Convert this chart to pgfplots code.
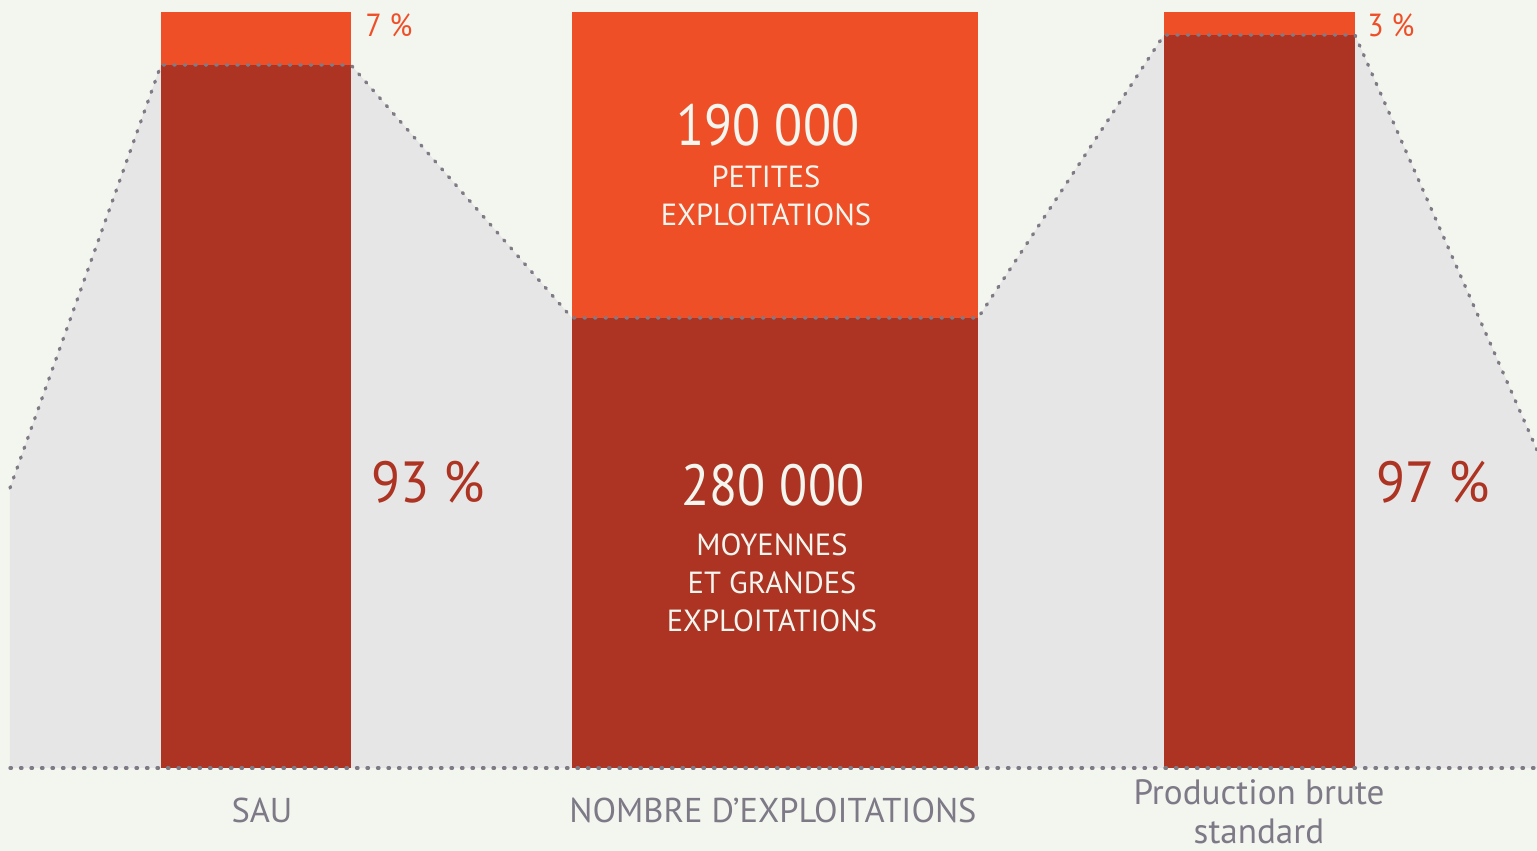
\documentclass[border=0pt]{standalone}
\usepackage{pgfplots}
\pgfplotsset{compat=1.18}
\usepackage{fontspec}
\setmainfont{PT Sans}
\newfontfamily\numfont[FakeStretch=0.89]{PT Sans}
\newfontfamily\pctfont[FakeStretch=0.92]{PT Sans}
\definecolor{bg}{HTML}{F3F5EF}
\definecolor{gfill}{HTML}{E5E6E5}
\definecolor{dred}{HTML}{AD3323}
\definecolor{orng}{HTML}{EF4F27}
\definecolor{dotc}{HTML}{7F7A85}
\definecolor{lab}{HTML}{7E7986}
\definecolor{wtxt}{HTML}{F3F5EF}
\begin{document}
\begin{tikzpicture}
\begin{axis}[
  width=15.37cm, height=8.51cm, scale only axis,
  xmin=0, xmax=1537, ymin=0, ymax=851,
  axis lines=none, ticks=none,
  clip=false,
]
% background
\addplot[fill=bg, draw=none] coordinates {(0,0)(1537,0)(1537,851)(0,851)} -- cycle;
% gray area
\addplot[fill=gfill, draw=none] coordinates {(10,83)(10,363)(161,786)(351,786)(572,533)(978,533)(1164,816)(1355,816)(1537,401)(1537,83)} -- cycle;
% bars: dark parts
\addplot[fill=dred, draw=none] coordinates {(161,83)(351,83)(351,786)(161,786)} -- cycle;
\addplot[fill=dred, draw=none] coordinates {(572,83)(978,83)(978,533)(572,533)} -- cycle;
\addplot[fill=dred, draw=none] coordinates {(1164,83)(1355,83)(1355,816)(1164,816)} -- cycle;
% bars: orange parts
\addplot[fill=orng, draw=none] coordinates {(161,786)(351,786)(351,839)(161,839)} -- cycle;
\addplot[fill=orng, draw=none] coordinates {(572,533)(978,533)(978,839)(572,839)} -- cycle;
\addplot[fill=orng, draw=none] coordinates {(1164,816)(1355,816)(1355,839)(1164,839)} -- cycle;
% dotted outline
\addplot[dotc, line width=0.33mm, line cap=round, dash pattern=on 0.15mm off 0.9mm] coordinates {(10,363)(161,786)(351,786)(572,533)(978,533)(1164,816)(1355,816)(1537,401)};
\addplot[dotc, line width=0.33mm, line cap=round, dash pattern=on 0.15mm off 0.9mm] coordinates {(10,83)(1537,83)};
% texts
\node[anchor=west, text=orng, font=\pctfont\fontsize{9.1}{11}\selectfont, inner sep=0pt] at (axis cs:365,826) {7~\%};
\node[anchor=west, text=orng, font=\pctfont\fontsize{9.1}{11}\selectfont, inner sep=0pt] at (axis cs:1367,826) {3~\%};
\node[text=dred, font=\pctfont\fontsize{16.5}{19}\selectfont, inner sep=0pt] at (axis cs:428,369) {93~\%};
\node[text=dred, font=\pctfont\fontsize{16.5}{19}\selectfont, inner sep=0pt] at (axis cs:1433,369) {97~\%};
\node[text=wtxt, font=\numfont\fontsize{16.5}{19}\selectfont, inner sep=0pt] at (axis cs:768,726) {190~000};
\node[text=wtxt, font=\fontsize{8.7}{10.8}\selectfont, align=center, inner sep=0pt] at (axis cs:766,655) {PETITES\\EXPLOITATIONS};
\node[text=wtxt, font=\numfont\fontsize{16.5}{19}\selectfont, inner sep=0pt] at (axis cs:773,366) {280~000};
\node[text=wtxt, font=\fontsize{8.7}{10.8}\selectfont, align=center, inner sep=0pt] at (axis cs:772,268) {MOYENNES\\ET GRANDES\\EXPLOITATIONS};
\node[text=lab, font=\fontsize{9.8}{11}\selectfont, inner sep=0pt] at (axis cs:262,41) {SAU};
\node[text=lab, font=\fontsize{9.8}{11}\selectfont, inner sep=0pt] at (axis cs:773,41) {NOMBRE D’EXPLOITATIONS};
\node[text=lab, font=\fontsize{10}{11.2}\selectfont, align=center, inner sep=0pt, anchor=north] at (axis cs:1259,72) {Production brute\\standard};
\end{axis}
\pgfresetboundingbox
\path[use as bounding box] (current axis.south west) rectangle (current axis.north east);
\end{tikzpicture}
\end{document}
